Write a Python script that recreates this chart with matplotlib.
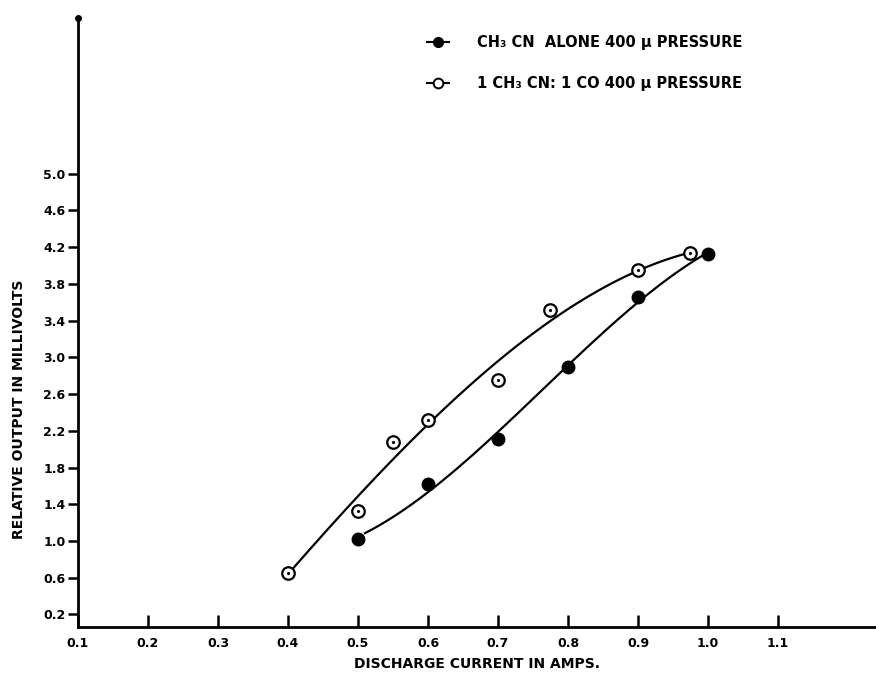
import numpy as np
import matplotlib
matplotlib.use("Agg")
import matplotlib.pyplot as plt
from matplotlib.lines import Line2D

# Data
alone_x = [0.5, 0.6, 0.7, 0.8, 0.9, 1.0]
alone_y = [1.02, 1.62, 2.11, 2.89, 3.66, 4.12]

mix_x = [0.4, 0.5, 0.55, 0.6, 0.7, 0.775, 0.9, 0.975]
mix_y = [0.655, 1.33, 2.08, 2.32, 2.75, 3.51, 3.95, 4.13]

x_ticks = [0.1, 0.2, 0.3, 0.4, 0.5, 0.6, 0.7, 0.8, 0.9, 1.0, 1.1]
x_labels = ["0.1", "0.2", "0.3", "0.4", "0.5", "0.6", "0.7", "0.8", "0.9", "1.0", "1.1"]
y_ticks = [0.2, 0.6, 1.0, 1.4, 1.8, 2.2, 2.6, 3.0, 3.4, 3.8, 4.2, 4.6, 5.0]
y_labels = ["0.2", "0.6", "1.0", "1.4", "1.8", "2.2", "2.6", "3.0", "3.4", "3.8", "4.2", "4.6", "5.0"]

legend_labels = ["CH\u2083 CN  ALONE 400 \u03bc PRESSURE", "1 CH\u2083 CN: 1 CO 400 \u03bc PRESSURE"]

plt.rcParams['font.family'] = ['DejaVu Sans']
plt.rcParams['font.weight'] = 'bold'

fig = plt.figure(figsize=(8.76, 6.77), dpi=100)
ax = fig.add_axes([0.089, 0.074, 0.911, 0.899])

# smooth curves (cubic fits of the data)
ca = np.polyfit(alone_x, alone_y, 3)
xa = np.linspace(0.51, 1.0, 200)
ax.plot(xa, np.polyval(ca, xa), color='black', lw=1.6, zorder=2)

cm = np.polyfit(mix_x, mix_y, 3)
xm = np.linspace(0.4, 0.975, 200)
ax.plot(xm, np.polyval(cm, xm), color='black', lw=1.6, zorder=2)

ax.plot(alone_x, alone_y, 'o', ms=9, color='black', zorder=3)
ax.plot(mix_x, mix_y, 'o', ms=9, mfc='white', mec='black', mew=1.6, zorder=3)
ax.plot(mix_x, mix_y, '.', ms=2.5, color='black', zorder=4)

ax.set_xlim(0.1, 1.24)
ax.set_ylim(0.065, 6.69)

for s in ['top', 'right']:
    ax.spines[s].set_visible(False)
for s in ['left', 'bottom']:
    ax.spines[s].set_linewidth(2)

ax.set_xticks(x_ticks)
ax.set_xticklabels(x_labels, fontsize=9, fontweight='bold')
ax.set_yticks(y_ticks)
ax.set_yticklabels(y_labels, fontsize=9, fontweight='bold')
ax.tick_params(axis='x', direction='in', length=9, width=1.8, pad=7)
ax.tick_params(axis='y', direction='out', length=7, width=1.8, pad=2)

# arrow tip at top of y axis
ax.plot([0.1], [6.69], marker='o', ms=4, color='black', clip_on=False)

ax.set_xlabel("DISCHARGE CURRENT IN AMPS.", fontsize=10, fontweight='bold', labelpad=5)
fig.text(0.022, 0.395, "RELATIVE OUTPUT IN MILLIVOLTS", rotation=90, fontsize=10,
         fontweight='bold', ha='center', va='center')

handles = [Line2D([], [], color='black', lw=1.5, marker='o', ms=7),
           Line2D([], [], color='black', lw=1.5, marker='o', ms=7, mfc='white', mew=1.4)]
leg = fig.legend(handles, legend_labels, loc='upper left', bbox_to_anchor=(0.473, 0.968),
                 frameon=False, handlelength=1.5, handletextpad=1.9, labelspacing=1.8,
                 prop={'size': 10.5, 'weight': 'bold'})

fig.savefig("out.png", dpi=100)
